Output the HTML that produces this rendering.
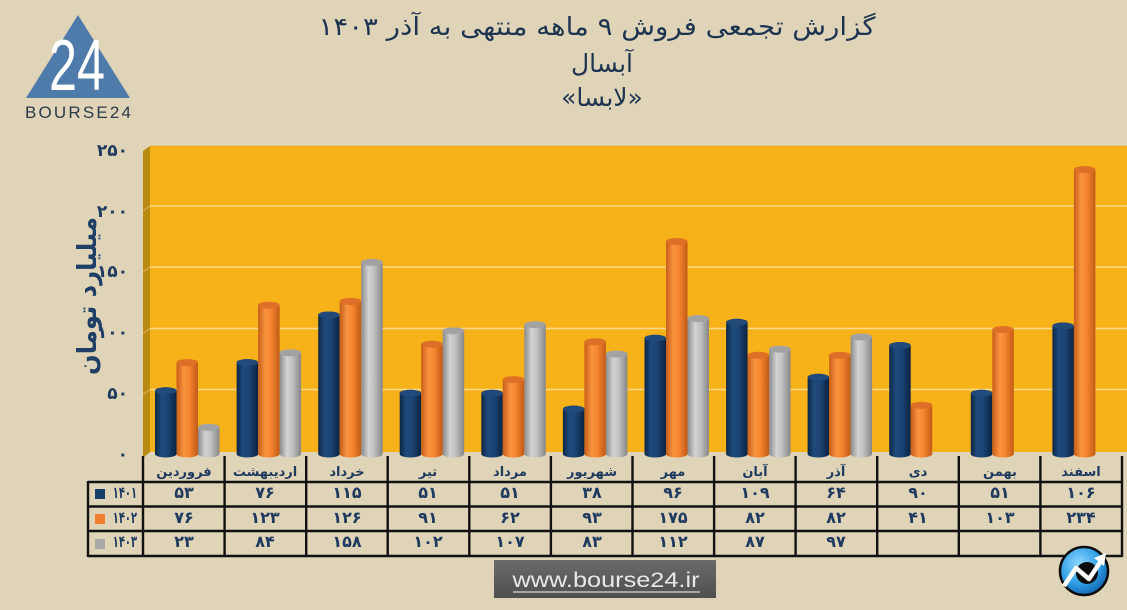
<!DOCTYPE html>
<html><head><meta charset="utf-8">
<style>
html,body{margin:0;padding:0;background:#dfd4b8;}
svg{display:block;}
.fa{font-family:"DejaVu Sans","Liberation Sans",sans-serif;}
</style></head>
<body>
<svg width="1127" height="610" viewBox="0 0 1127 610" xmlns="http://www.w3.org/2000/svg">
<defs>
<linearGradient id="gn" x1="0" x2="1" y1="0" y2="0">
<stop offset="0" stop-color="#0c2645"/><stop offset="0.3" stop-color="#1f4a7c"/><stop offset="0.6" stop-color="#1b4373"/><stop offset="1" stop-color="#0b2342"/>
</linearGradient>
<linearGradient id="go" x1="0" x2="1" y1="0" y2="0">
<stop offset="0" stop-color="#c65e18"/><stop offset="0.35" stop-color="#fa9440"/><stop offset="0.6" stop-color="#f5852f"/><stop offset="1" stop-color="#c25a16"/>
</linearGradient>
<linearGradient id="gg" x1="0" x2="1" y1="0" y2="0">
<stop offset="0" stop-color="#8a8a8a"/><stop offset="0.35" stop-color="#d3d3d3"/><stop offset="0.6" stop-color="#c0c0c0"/><stop offset="1" stop-color="#868686"/>
</linearGradient>
<linearGradient id="url" x1="0" x2="0" y1="0" y2="1">
<stop offset="0" stop-color="#6a6a6a"/><stop offset="1" stop-color="#4f4f4f"/>
</linearGradient>
<radialGradient id="ic" cx="0.4" cy="0.35" r="0.7">
<stop offset="0" stop-color="#8fd8ff"/><stop offset="0.6" stop-color="#2f9ee6"/><stop offset="1" stop-color="#0f5fa8"/>
</radialGradient>
</defs>

<rect width="1127" height="610" fill="#dfd4b8"/>

<!-- logo -->
<polygon points="26,98 78,15 130,98" fill="#4f7bab"/>
<text x="77" y="90" text-anchor="middle" font-family="Liberation Sans, sans-serif" font-size="72" fill="#ffffff" textLength="56" lengthAdjust="spacingAndGlyphs">24</text>
<text x="78" y="118" text-anchor="middle" font-family="Liberation Sans, sans-serif" font-size="17" fill="#2b3a4a" textLength="106" lengthAdjust="spacing">BOURSE24</text>

<!-- titles -->
<g class="fa" fill="#1d3450" font-size="25" text-anchor="middle">
<text x="597" y="35" direction="rtl" textLength="557" lengthAdjust="spacingAndGlyphs">گزارش تجمعی فروش ۹ ماهه منتهی به آذر ۱۴۰۳</text>
<text x="602" y="72" direction="rtl">آبسال</text>
<text x="602" y="106" direction="rtl">«لابسا»</text>
</g>

<!-- chart wall -->
<rect x="150" y="146" width="977" height="306" fill="#f8b219"/>
<line x1="150" y1="146.5" x2="1127" y2="146.5" stroke="#eea916" stroke-width="1.5"/>
<polygon points="143,151 150,146 150,452 143,458" fill="#b98a12"/>
<g stroke="#fcd98c" stroke-width="1.5">
<line x1="150" y1="206" x2="1127" y2="206"/>
<line x1="150" y1="267" x2="1127" y2="267"/>
<line x1="150" y1="328.5" x2="1127" y2="328.5"/>
<line x1="150" y1="389.5" x2="1127" y2="389.5"/>
</g>
<g stroke="#d9ad55" stroke-width="1.2">
<line x1="143" y1="211" x2="150" y2="206"/>
<line x1="143" y1="272" x2="150" y2="267"/>
<line x1="143" y1="333.5" x2="150" y2="328.5"/>
<line x1="143" y1="394.5" x2="150" y2="389.5"/>
</g>

<!-- y ticks -->
<g class="fa" font-size="17" font-weight="bold" fill="#1f3a5f" text-anchor="end">
<text x="128" y="156">۲۵۰</text>
<text x="128" y="217">۲۰۰</text>
<text x="128" y="277">۱۵۰</text>
<text x="128" y="338">۱۰۰</text>
<text x="128" y="399">۵۰</text>
<text x="128" y="460">۰</text>
</g>
<text class="fa" transform="translate(96,296) rotate(-90)" text-anchor="middle" font-size="26" font-weight="bold" fill="#1f3f66" textLength="158" lengthAdjust="spacingAndGlyphs">میلیارد تومان</text>

<!-- bars 1401 (navy) -->
<g fill="url(#gn)">
<rect x="155.0" y="387.2" width="21.5" height="70.3" rx="10.75" ry="3.5"/>
<rect x="236.6" y="359.1" width="21.5" height="98.4" rx="10.75" ry="3.5"/>
<rect x="318.2" y="311.5" width="21.5" height="146.0" rx="10.75" ry="3.5"/>
<rect x="399.7" y="389.7" width="21.5" height="67.8" rx="10.75" ry="3.5"/>
<rect x="481.3" y="389.7" width="21.5" height="67.8" rx="10.75" ry="3.5"/>
<rect x="562.9" y="405.6" width="21.5" height="51.9" rx="10.75" ry="3.5"/>
<rect x="644.5" y="334.7" width="21.5" height="122.8" rx="10.75" ry="3.5"/>
<rect x="726.1" y="318.8" width="21.5" height="138.7" rx="10.75" ry="3.5"/>
<rect x="807.6" y="373.8" width="21.5" height="83.7" rx="10.75" ry="3.5"/>
<rect x="889.2" y="342.0" width="21.5" height="115.5" rx="10.75" ry="3.5"/>
<rect x="970.8" y="389.7" width="21.5" height="67.8" rx="10.75" ry="3.5"/>
<rect x="1052.4" y="322.5" width="21.5" height="135.0" rx="10.75" ry="3.5"/>
</g>
<g fill="#21497a">
<ellipse cx="165.75" cy="390.7" rx="10.75" ry="3.5"/>
<ellipse cx="247.35" cy="362.6" rx="10.75" ry="3.5"/>
<ellipse cx="328.95" cy="315.0" rx="10.75" ry="3.5"/>
<ellipse cx="410.45" cy="393.2" rx="10.75" ry="3.5"/>
<ellipse cx="492.05" cy="393.2" rx="10.75" ry="3.5"/>
<ellipse cx="573.65" cy="409.1" rx="10.75" ry="3.5"/>
<ellipse cx="655.25" cy="338.2" rx="10.75" ry="3.5"/>
<ellipse cx="736.85" cy="322.3" rx="10.75" ry="3.5"/>
<ellipse cx="818.35" cy="377.3" rx="10.75" ry="3.5"/>
<ellipse cx="899.95" cy="345.5" rx="10.75" ry="3.5"/>
<ellipse cx="981.55" cy="393.2" rx="10.75" ry="3.5"/>
<ellipse cx="1063.15" cy="326.0" rx="10.75" ry="3.5"/>
</g>

<!-- bars 1402 (orange) -->
<g fill="url(#go)">
<rect x="176.5" y="359.1" width="21.5" height="98.4" rx="10.75" ry="3.5"/>
<rect x="258.1" y="301.7" width="21.5" height="155.8" rx="10.75" ry="3.5"/>
<rect x="339.7" y="298.0" width="21.5" height="159.5" rx="10.75" ry="3.5"/>
<rect x="421.2" y="340.8" width="21.5" height="116.7" rx="10.75" ry="3.5"/>
<rect x="502.8" y="376.2" width="21.5" height="81.3" rx="10.75" ry="3.5"/>
<rect x="584.4" y="338.4" width="21.5" height="119.1" rx="10.75" ry="3.5"/>
<rect x="666.0" y="238.1" width="21.5" height="219.4" rx="10.75" ry="3.5"/>
<rect x="747.6" y="351.8" width="21.5" height="105.7" rx="10.75" ry="3.5"/>
<rect x="829.1" y="351.8" width="21.5" height="105.7" rx="10.75" ry="3.5"/>
<rect x="910.7" y="401.9" width="21.5" height="55.6" rx="10.75" ry="3.5"/>
<rect x="992.3" y="326.1" width="21.5" height="131.4" rx="10.75" ry="3.5"/>
<rect x="1073.9" y="166.1" width="21.5" height="291.4" rx="10.75" ry="3.5"/>
</g>
<g fill="#de6f26">
<ellipse cx="187.25" cy="362.6" rx="10.75" ry="3.5"/>
<ellipse cx="268.85" cy="305.2" rx="10.75" ry="3.5"/>
<ellipse cx="350.45" cy="301.5" rx="10.75" ry="3.5"/>
<ellipse cx="431.95" cy="344.3" rx="10.75" ry="3.5"/>
<ellipse cx="513.55" cy="379.7" rx="10.75" ry="3.5"/>
<ellipse cx="595.15" cy="341.9" rx="10.75" ry="3.5"/>
<ellipse cx="676.75" cy="241.6" rx="10.75" ry="3.5"/>
<ellipse cx="758.35" cy="355.3" rx="10.75" ry="3.5"/>
<ellipse cx="839.85" cy="355.3" rx="10.75" ry="3.5"/>
<ellipse cx="921.45" cy="405.4" rx="10.75" ry="3.5"/>
<ellipse cx="1003.05" cy="329.6" rx="10.75" ry="3.5"/>
<ellipse cx="1084.65" cy="169.6" rx="10.75" ry="3.5"/>
</g>

<!-- bars 1403 (gray) -->
<g fill="url(#gg)">
<rect x="198.0" y="423.9" width="21.5" height="33.6" rx="10.75" ry="3.5"/>
<rect x="279.6" y="349.4" width="21.5" height="108.1" rx="10.75" ry="3.5"/>
<rect x="361.2" y="258.9" width="21.5" height="198.6" rx="10.75" ry="3.5"/>
<rect x="442.7" y="327.4" width="21.5" height="130.1" rx="10.75" ry="3.5"/>
<rect x="524.3" y="321.2" width="21.5" height="136.3" rx="10.75" ry="3.5"/>
<rect x="605.9" y="350.6" width="21.5" height="106.9" rx="10.75" ry="3.5"/>
<rect x="687.5" y="315.1" width="21.5" height="142.4" rx="10.75" ry="3.5"/>
<rect x="769.1" y="345.7" width="21.5" height="111.8" rx="10.75" ry="3.5"/>
<rect x="850.6" y="333.5" width="21.5" height="124.0" rx="10.75" ry="3.5"/>
</g>
<g fill="#a2a2a2">
<ellipse cx="208.75" cy="427.4" rx="10.75" ry="3.5"/>
<ellipse cx="290.35" cy="352.9" rx="10.75" ry="3.5"/>
<ellipse cx="371.95" cy="262.4" rx="10.75" ry="3.5"/>
<ellipse cx="453.45" cy="330.9" rx="10.75" ry="3.5"/>
<ellipse cx="535.05" cy="324.7" rx="10.75" ry="3.5"/>
<ellipse cx="616.65" cy="354.1" rx="10.75" ry="3.5"/>
<ellipse cx="698.25" cy="318.6" rx="10.75" ry="3.5"/>
<ellipse cx="779.85" cy="349.2" rx="10.75" ry="3.5"/>
<ellipse cx="861.35" cy="337.0" rx="10.75" ry="3.5"/>
</g>

<!-- table grid -->
<g stroke="#111" stroke-width="2.4">
<line x1="88" y1="482" x2="1122" y2="482"/>
<line x1="88" y1="506.5" x2="1122" y2="506.5"/>
<line x1="88" y1="531" x2="1122" y2="531"/>
<line x1="88" y1="556" x2="1122" y2="556"/>
<line x1="88" y1="481" x2="88" y2="557"/>
<line x1="143" y1="456" x2="143" y2="557"/>
<line x1="224.6" y1="456" x2="224.6" y2="557"/>
<line x1="306.2" y1="456" x2="306.2" y2="557"/>
<line x1="387.7" y1="456" x2="387.7" y2="557"/>
<line x1="469.3" y1="456" x2="469.3" y2="557"/>
<line x1="550.9" y1="456" x2="550.9" y2="557"/>
<line x1="632.5" y1="456" x2="632.5" y2="557"/>
<line x1="714.1" y1="456" x2="714.1" y2="557"/>
<line x1="795.6" y1="456" x2="795.6" y2="557"/>
<line x1="877.2" y1="456" x2="877.2" y2="557"/>
<line x1="958.8" y1="456" x2="958.8" y2="557"/>
<line x1="1040.4" y1="456" x2="1040.4" y2="557"/>
<line x1="1122" y1="456" x2="1122" y2="557"/>
</g>

<!-- month header -->
<g class="fa" font-size="13" font-weight="bold" fill="#1f3a5f" text-anchor="middle" direction="rtl">
<text x="184" y="476">فروردین</text>
<text x="265" y="476">اردیبهشت</text>
<text x="347" y="476">خرداد</text>
<text x="428" y="476">تیر</text>
<text x="510" y="476">مرداد</text>
<text x="592" y="476">شهریور</text>
<text x="673" y="476">مهر</text>
<text x="755" y="476">آبان</text>
<text x="836" y="476">آذر</text>
<text x="918" y="476">دی</text>
<text x="1000" y="476">بهمن</text>
<text x="1081" y="476">اسفند</text>
</g>

<!-- legend -->
<rect x="95" y="489" width="10" height="10" fill="#173e6b"/>
<rect x="95" y="514" width="10" height="10" fill="#f08030"/>
<rect x="95" y="539" width="10" height="10" fill="#a8a8a8"/>
<g class="fa" font-size="16" font-weight="bold" fill="#1f3a5f" text-anchor="end">
<text transform="translate(137,498) scale(0.62,1)">۱۴۰۱</text>
<text transform="translate(137,523) scale(0.62,1)">۱۴۰۲</text>
<text transform="translate(137,547) scale(0.62,1)">۱۴۰۳</text>
</g>

<!-- values -->
<g class="fa" font-size="16" font-weight="bold" fill="#1f3a5f" text-anchor="middle">
<text x="184" y="498">۵۳</text><text x="265" y="498">۷۶</text><text x="347" y="498">۱۱۵</text><text x="428" y="498">۵۱</text><text x="510" y="498">۵۱</text><text x="592" y="498">۳۸</text><text x="673" y="498">۹۶</text><text x="755" y="498">۱۰۹</text><text x="836" y="498">۶۴</text><text x="918" y="498">۹۰</text><text x="1000" y="498">۵۱</text><text x="1081" y="498">۱۰۶</text>
<text x="184" y="523">۷۶</text><text x="265" y="523">۱۲۳</text><text x="347" y="523">۱۲۶</text><text x="428" y="523">۹۱</text><text x="510" y="523">۶۲</text><text x="592" y="523">۹۳</text><text x="673" y="523">۱۷۵</text><text x="755" y="523">۸۲</text><text x="836" y="523">۸۲</text><text x="918" y="523">۴۱</text><text x="1000" y="523">۱۰۳</text><text x="1081" y="523">۲۳۴</text>
<text x="184" y="547">۲۳</text><text x="265" y="547">۸۴</text><text x="347" y="547">۱۵۸</text><text x="428" y="547">۱۰۲</text><text x="510" y="547">۱۰۷</text><text x="592" y="547">۸۳</text><text x="673" y="547">۱۱۲</text><text x="755" y="547">۸۷</text><text x="836" y="547">۹۷</text>
</g>

<!-- url box -->
<rect x="494" y="560" width="222" height="38" fill="url(#url)"/>
<text x="606" y="587" text-anchor="middle" font-family="Liberation Sans, sans-serif" font-size="21" fill="#e8e8e8" textLength="187" lengthAdjust="spacingAndGlyphs">www.bourse24.ir</text>
<line x1="513" y1="592" x2="700" y2="592" stroke="#d8d8d8" stroke-width="1.2"/>

<!-- icon -->
<circle cx="1084" cy="571" r="24" fill="url(#ic)" stroke="#0a0a0a" stroke-width="2.5"/>
<circle cx="1087" cy="573" r="11" fill="#0b0b0b"/>
<polyline points="1064,586 1076,568 1089,579 1101,561" fill="none" stroke="#ffffff" stroke-width="4.5" stroke-linejoin="round"/>
<polygon points="1094,558 1106,553 1104,566" fill="#ffffff"/>
</svg>
</body></html>
